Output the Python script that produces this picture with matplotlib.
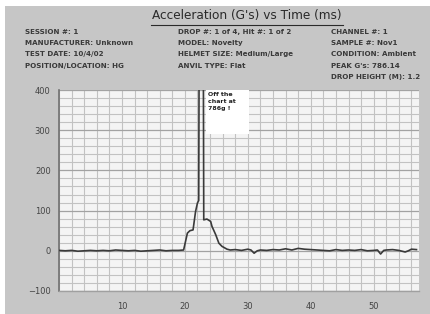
import matplotlib
matplotlib.use("Agg")
import matplotlib.pyplot as plt
from matplotlib.patches import Rectangle
from matplotlib.lines import Line2D
from matplotlib.ticker import MultipleLocator

# ---- data ----
time_ms = [0, 1, 2, 3, 4, 5, 6, 7, 8, 9, 10, 11, 12, 13, 14, 15, 16, 17, 18, 19, 19.8,
           20.4, 20.8, 21.3, 21.7, 22.0, 22.2, 22.3, 22.6, 22.9, 23.0, 23.5, 24.1, 24.3, 24.9, 25.4,
           25.9, 26.7, 27.2, 28, 29, 30, 30.5, 31, 31.5, 32, 33, 34, 35, 36, 37, 38,
           39, 40, 41, 42, 43, 44, 45, 46, 47, 48, 49, 50, 50.6, 51.1, 51.6, 52, 53,
           54, 55, 55.5, 56, 56.8]
accel_g = [1, 0, 1, -1, 0, 1, 0, 1, 0, 2, 1, 0, 1, -1, 0, 1, 2, 0, 1, 1, 2,
           44, 50, 52, 98, 119, 125, 700, 786, 700, 77, 79, 73, 61, 40, 19,
           11, 4, 2, 3, 1, 4, 2, -6, 0, 2, 1, 3, 2, 5, 2, 6,
           4, 3, 2, 1, 0, 3, 1, 2, 1, 3, 0, 1, 2, -8, 1, 2, 3,
           1, -3, 0, 4, 3]
yticks = [-100, 0, 100, 200, 300, 400]
xticks = [10, 20, 30, 40, 50]

title = "Acceleration (G's) vs Time (ms)"
col1 = ["SESSION #: 1", "MANUFACTURER: Unknown", "TEST DATE: 10/4/02", "POSITION/LOCATION: HG"]
col2 = ["DROP #: 1 of 4, Hit #: 1 of 2", "MODEL: Novelty", "HELMET SIZE: Medium/Large", "ANVIL TYPE: Flat"]
col3 = ["CHANNEL #: 1", "SAMPLE #: Nov1", "CONDITION: Ambient", "PEAK G's: 786.14", "DROP HEIGHT (M): 1.2"]
note = "Off the\nchart at\n786g !"

W, H = 430, 314
fig = plt.figure(figsize=(W / 100, H / 100), dpi=100, facecolor="white")
fig.patches.append(Rectangle((5 / W, 0), 1 - 5 / W, 1 - 6 / H, transform=fig.transFigure,
                             facecolor="#c6c6c6", edgecolor="none", zorder=-5))

ax = fig.add_axes([59 / W, 23 / H, (419 - 59) / W, (291 - 90) / H])
ax.set_zorder(2)
ax.set_facecolor("#f4f4f4")
ax.set_xlim(0, 57.2)
ax.set_ylim(-100, 400)
ax.xaxis.set_minor_locator(MultipleLocator(2))
ax.yaxis.set_minor_locator(MultipleLocator(20))
ax.set_xticks(xticks)
ax.set_yticks(yticks)
ax.grid(which="minor", color="#c2c2c2", linewidth=0.8)
ax.grid(which="major", axis="y", color="#a2a2a2", linewidth=0.9)
ax.grid(which="major", axis="x", color="#c2c2c2", linewidth=0.8)
ax.set_axisbelow(True)
for s in ["top", "right"]:
    ax.spines[s].set_visible(False)
ax.spines["left"].set_color("#707070")
ax.spines["left"].set_linewidth(1.2)
ax.spines["bottom"].set_color("#a0a0a0")
ax.spines["bottom"].set_linewidth(1.0)
ax.tick_params(which="both", length=0, labelsize=6, colors="#444444", pad=6)
ax.tick_params(axis="x", pad=8)

ax.plot(time_ms, accel_g, color="#3a3a3a", linewidth=1.2, zorder=3)

ax.add_patch(Rectangle((23.3, 290), 6.9, 110, facecolor="white", edgecolor="none", zorder=4))
ax.text(23.7, 395, note, fontsize=4.5, fontweight="bold", color="#222222",
        va="top", ha="left", linespacing=1.5, zorder=5)

fig.text(247 / W, 1 - 16 / H, title, fontsize=8.7, ha="center", va="center", color="#2a2a2a")
fig.add_artist(Line2D([151 / W, 343 / W], [1 - 24.5 / H, 1 - 24.5 / H], color="#2a2a2a", linewidth=0.8))

rows = [32, 43, 54, 66, 77]
fs = 5.1
for i, t in enumerate(col1):
    fig.text(25 / W, 1 - rows[i] / H, t, fontsize=fs, fontweight="bold", color="#3a3a3a", va="center")
for i, t in enumerate(col2):
    fig.text(178 / W, 1 - rows[i] / H, t, fontsize=fs, fontweight="bold", color="#3a3a3a", va="center")
for i, t in enumerate(col3):
    fig.text(331 / W, 1 - rows[i] / H, t, fontsize=fs, fontweight="bold", color="#3a3a3a", va="center")

fig.savefig("out.png", dpi=100, facecolor=fig.get_facecolor())
